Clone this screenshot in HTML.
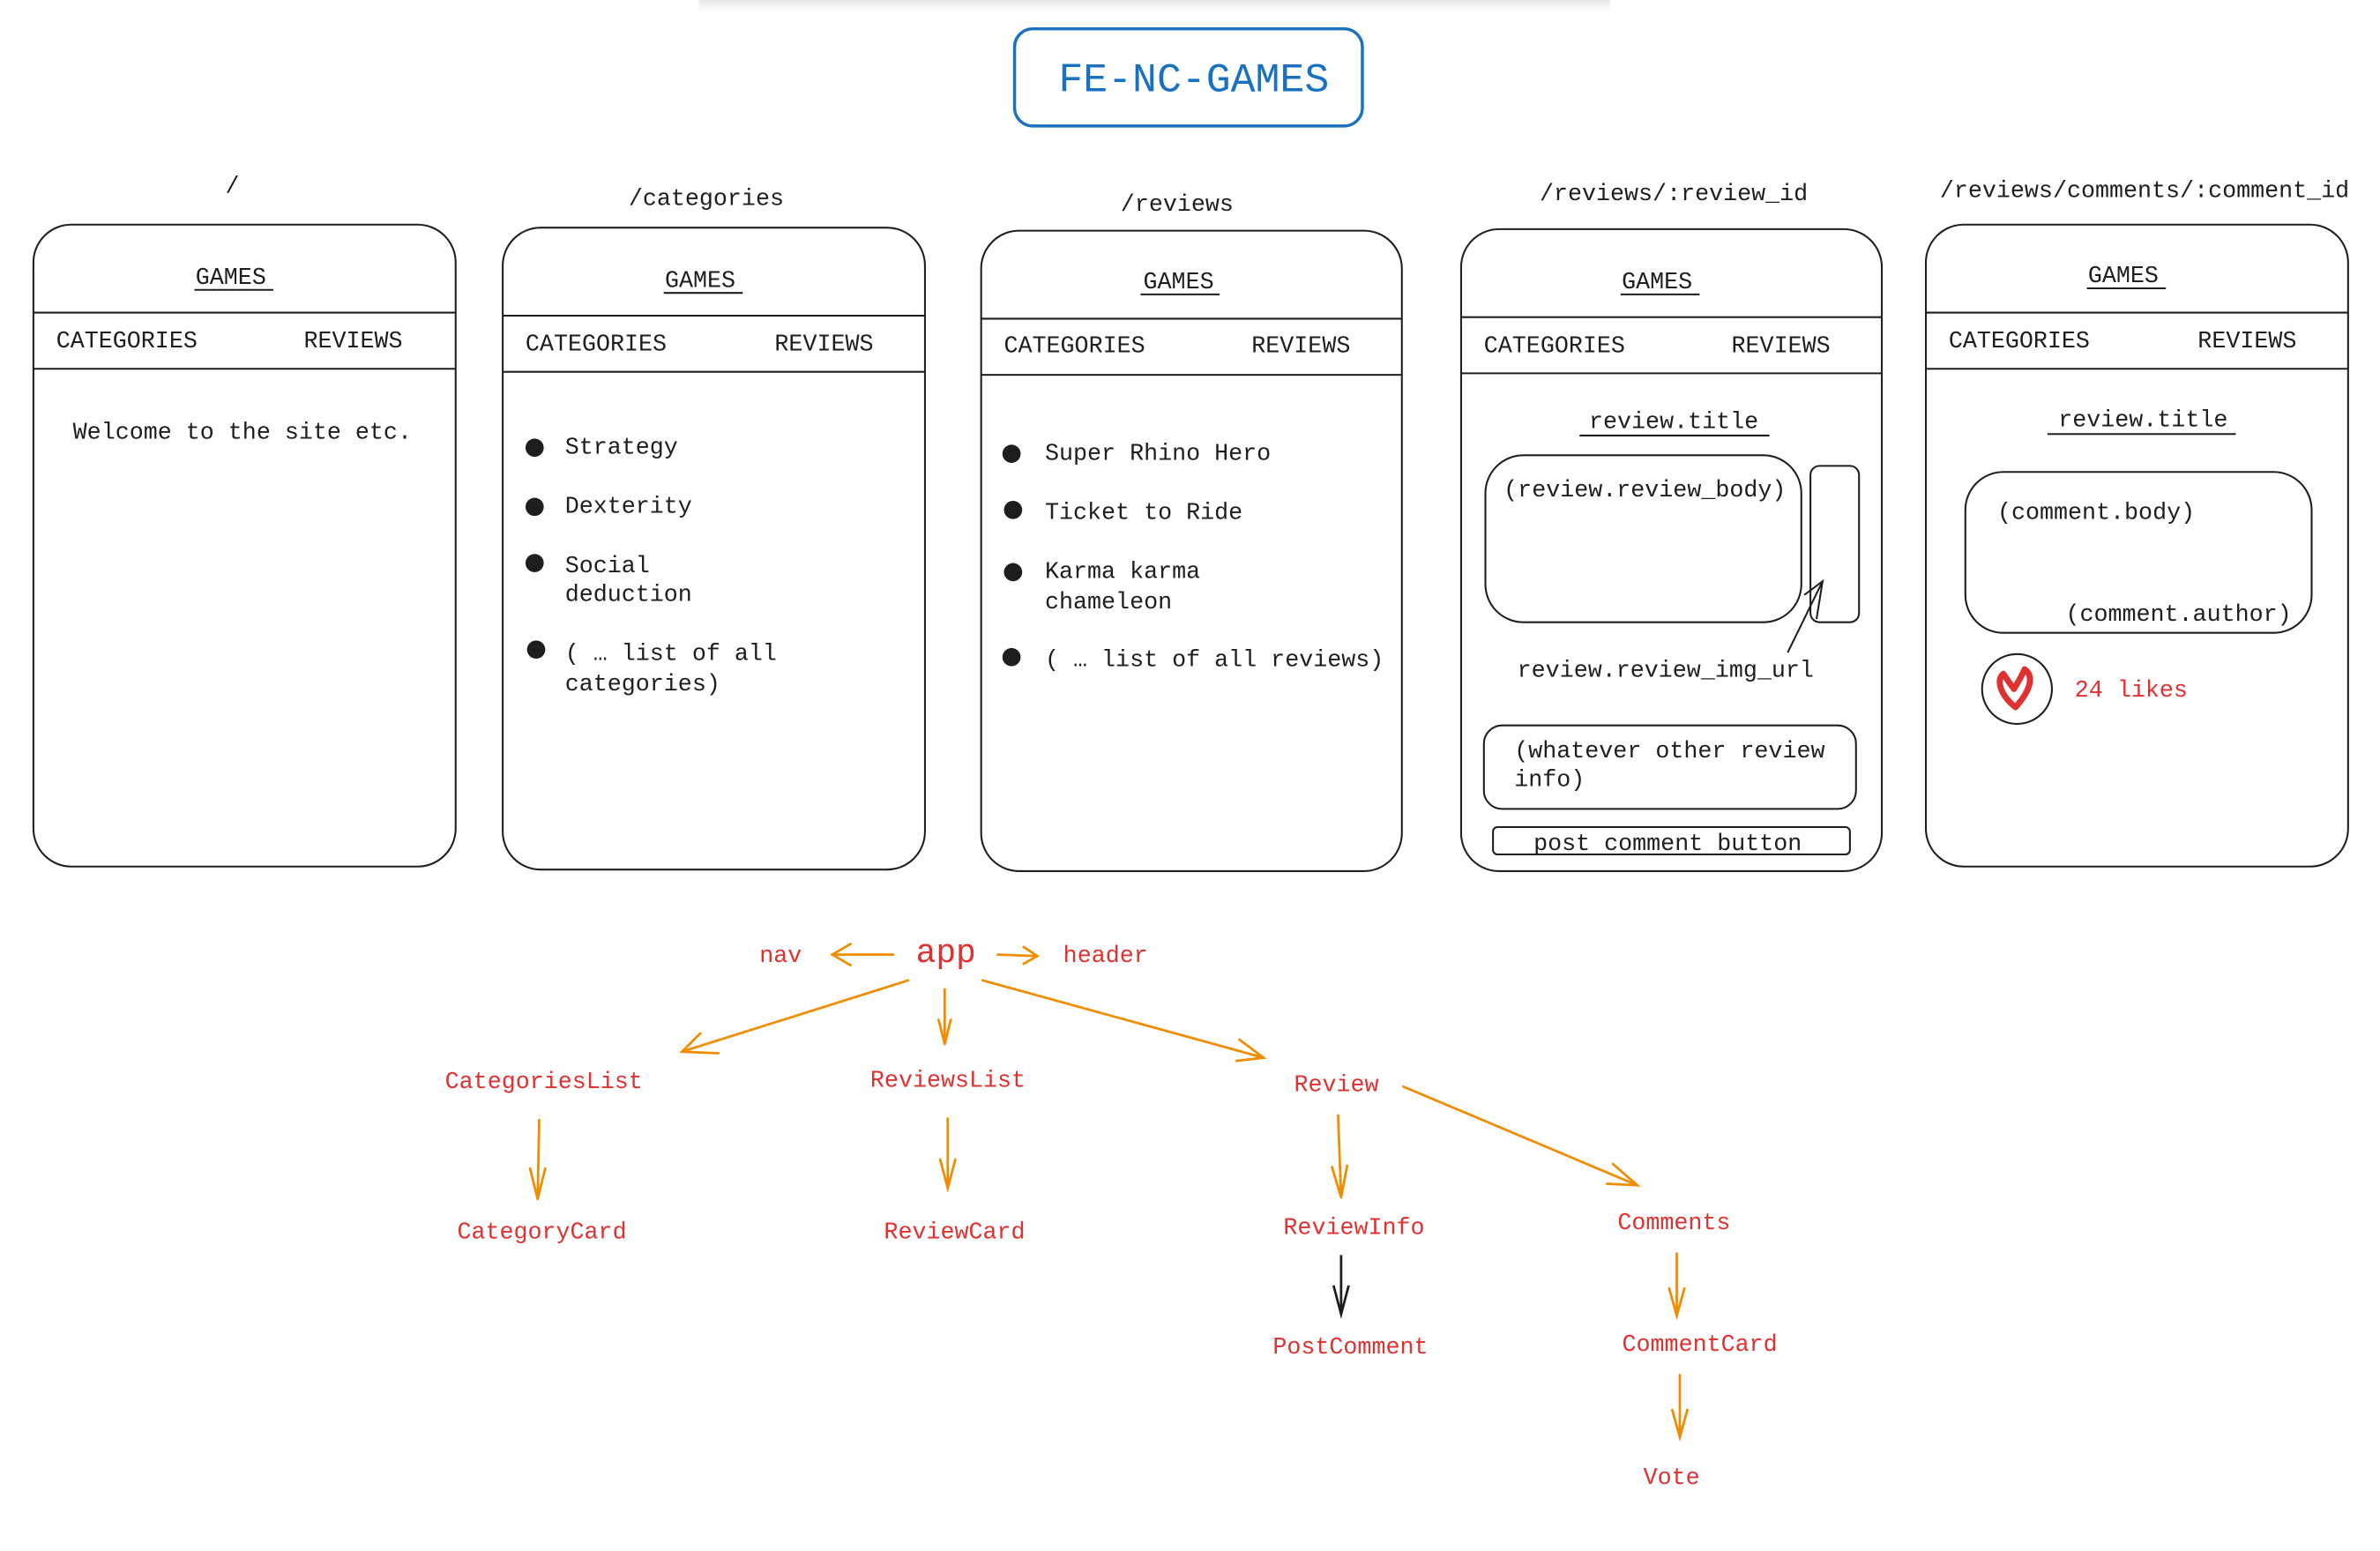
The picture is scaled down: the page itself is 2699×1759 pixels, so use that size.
<!DOCTYPE html>
<html><head><meta charset="utf-8"><style>
html,body{margin:0;padding:0;background:#fff;}
svg{display:block;}
text{font-family:"Liberation Mono",monospace;dominant-baseline:central;}
</style></head><body>
<svg width="2699" height="1759" viewBox="0 0 1567 1022" preserveAspectRatio="none" xmlns="http://www.w3.org/2000/svg">
<defs><linearGradient id="sh" x1="0" y1="0" x2="0" y2="1"><stop offset="0" stop-color="#e8e8e8"/><stop offset="1" stop-color="#fff"/></linearGradient></defs>
<rect x="460" y="0" width="600" height="8" fill="url(#sh)"/>
<rect x="668" y="19" width="229" height="64" rx="12" fill="none" stroke="#1971c2" stroke-width="2"/>
<text x="786" y="53" font-size="27" fill="#1971c2" text-anchor="middle">FE-NC-GAMES</text>

<g fill="none" stroke="#1e1e1e" stroke-width="1.2">
<rect x="22" y="148" width="278" height="423" rx="25"/>
<line x1="22" y1="206" x2="300" y2="206"/><line x1="22" y1="243" x2="300" y2="243"/>
<line x1="128" y1="191" x2="180" y2="191"/>
<rect x="331" y="150" width="278" height="423" rx="25"/>
<line x1="331" y1="208" x2="609" y2="208"/><line x1="331" y1="245" x2="609" y2="245"/>
<line x1="437" y1="193" x2="489" y2="193"/>
<rect x="646" y="152" width="277" height="422" rx="25"/>
<line x1="646" y1="210" x2="923" y2="210"/><line x1="646" y1="247" x2="923" y2="247"/>
<line x1="751" y1="194" x2="803" y2="194"/>
<rect x="962" y="151" width="277" height="423" rx="25"/>
<line x1="962" y1="209" x2="1239" y2="209"/><line x1="962" y1="246" x2="1239" y2="246"/>
<line x1="1067" y1="194" x2="1119" y2="194"/>
<line x1="1040" y1="287" x2="1165" y2="287"/>
<rect x="978" y="300" width="208" height="110" rx="25"/>
<rect x="1192" y="307" width="32" height="103" rx="6"/>
<path d="M1177 430 L1200 383 M1188 392 L1200 383 L1196 408"/>
<rect x="977" y="478" width="245" height="55" rx="12"/>
<rect x="983" y="545" width="235" height="18" rx="3"/>
<rect x="1268" y="148" width="278" height="423" rx="25"/>
<line x1="1268" y1="206" x2="1546" y2="206"/><line x1="1268" y1="243" x2="1546" y2="243"/>
<line x1="1374" y1="190" x2="1426" y2="190"/>
<line x1="1348" y1="286" x2="1472" y2="286"/>
<rect x="1294" y="311" width="228" height="106" rx="25"/>
<circle cx="1328" cy="454" r="23"/>
</g>
<path d="M1319 444 C1314 448 1317 458 1327 466 C1336 456 1340 446 1333 441 C1330 448 1327 452 1326 454 C1323 450 1321 447 1319 444 Z" fill="none" stroke="#e03131" stroke-width="4" stroke-linejoin="round"/>

<g font-size="15.5" fill="#1e1e1e" transform="translate(0,1.5)">
<text x="153" y="122" text-anchor="middle">/</text>
<text x="465" y="130" text-anchor="middle">/categories</text>
<text x="775" y="134" text-anchor="middle">/reviews</text>
<text x="1102" y="127" text-anchor="middle">/reviews/:review_id</text>
<text x="1412" y="125" text-anchor="middle">/reviews/comments/:comment_id</text>
<text x="152" y="182" text-anchor="middle">GAMES</text>
<text x="37" y="224">CATEGORIES</text><text x="200" y="224">REVIEWS</text>
<text x="48" y="284">Welcome to the site etc.</text>
<text x="461" y="184" text-anchor="middle">GAMES</text>
<text x="346" y="226">CATEGORIES</text><text x="510" y="226">REVIEWS</text>
<text x="372" y="294">Strategy</text>
<text x="372" y="333">Dexterity</text>
<text x="372" y="372">Social</text><text x="372" y="391">deduction</text>
<text x="372" y="430">( … list of all</text><text x="372" y="450">categories)</text>
<text x="776" y="185" text-anchor="middle">GAMES</text>
<text x="661" y="227">CATEGORIES</text><text x="824" y="227">REVIEWS</text>
<text x="688" y="298">Super Rhino Hero</text>
<text x="688" y="337">Ticket to Ride</text>
<text x="688" y="376">Karma karma</text><text x="688" y="396">chameleon</text>
<text x="688" y="434">( … list of all reviews)</text>
<text x="1091" y="185" text-anchor="middle">GAMES</text>
<text x="977" y="227">CATEGORIES</text><text x="1140" y="227">REVIEWS</text>
<text x="1102" y="277" text-anchor="middle">review.title</text>
<text x="990" y="322">(review.review_body)</text>
<text x="999" y="441">review.review_img_url</text>
<text x="997" y="494">(whatever other review</text><text x="997" y="513">info)</text>
<text x="1098" y="555" text-anchor="middle">post comment button</text>
<text x="1398" y="181" text-anchor="middle">GAMES</text>
<text x="1283" y="224">CATEGORIES</text><text x="1447" y="224">REVIEWS</text>
<text x="1411" y="276" text-anchor="middle">review.title</text>
<text x="1315" y="337">(comment.body)</text>
<text x="1360" y="404">(comment.author)</text>
<text x="1366" y="454" fill="#e03131">24 likes</text>
</g>
<g fill="#1e1e1e">
<circle cx="352" cy="295" r="6"/><circle cx="352" cy="334" r="6"/><circle cx="352" cy="371" r="6"/><circle cx="353" cy="428" r="6"/>
<circle cx="666" cy="299" r="6"/><circle cx="667" cy="336" r="6"/><circle cx="667" cy="377" r="6"/><circle cx="666" cy="433" r="6"/>
</g>

<g fill="none" stroke="#f08c00" stroke-width="1.6" stroke-linecap="round">
<path d="M588 629 L548 629 M560 622 L548 629 L560 636"/>
<path d="M657 629 L683 630 M674 624 L683 630 L674 635"/>
<path d="M598 646 L449 693 M461 681 L449 693 L473 694"/>
<path d="M622 652 L622 688 M618 672 L622 688 L626 672"/>
<path d="M647 646 L832 697 M816 685 L832 697 L814 699"/>
<path d="M355 738 L354 790 M349 770 L354 790 L359 770"/>
<path d="M624 737 L624 783 M619 764 L624 783 L629 764"/>
<path d="M881 735 L883 789 M877 769 L883 789 L887 768"/>
<path d="M924 716 L1078 781 M1062 767 L1078 781 L1058 780"/>
<path d="M1104 826 L1104 867 M1099 849 L1104 867 L1109 849"/>
<path d="M1106 906 L1106 947 M1101 929 L1106 947 L1111 929"/>
</g>
<path d="M883 827 L883 866 M878 847 L883 866 L888 847" fill="none" stroke="#1e1e1e" stroke-width="1.6"/>

<g font-size="15.5" fill="#e03131" transform="translate(0,1.5)">
<text x="500" y="629">nav</text>
<text x="603" y="627" font-size="22">app</text>
<text x="700" y="629">header</text>
<text x="293" y="712">CategoriesList</text>
<text x="573" y="711">ReviewsList</text>
<text x="852" y="714">Review</text>
<text x="301" y="811">CategoryCard</text>
<text x="582" y="811">ReviewCard</text>
<text x="845" y="808">ReviewInfo</text>
<text x="1065" y="805">Comments</text>
<text x="838" y="887">PostComment</text>
<text x="1068" y="885">CommentCard</text>
<text x="1082" y="973">Vote</text>
</g>
</svg>
</body></html>
